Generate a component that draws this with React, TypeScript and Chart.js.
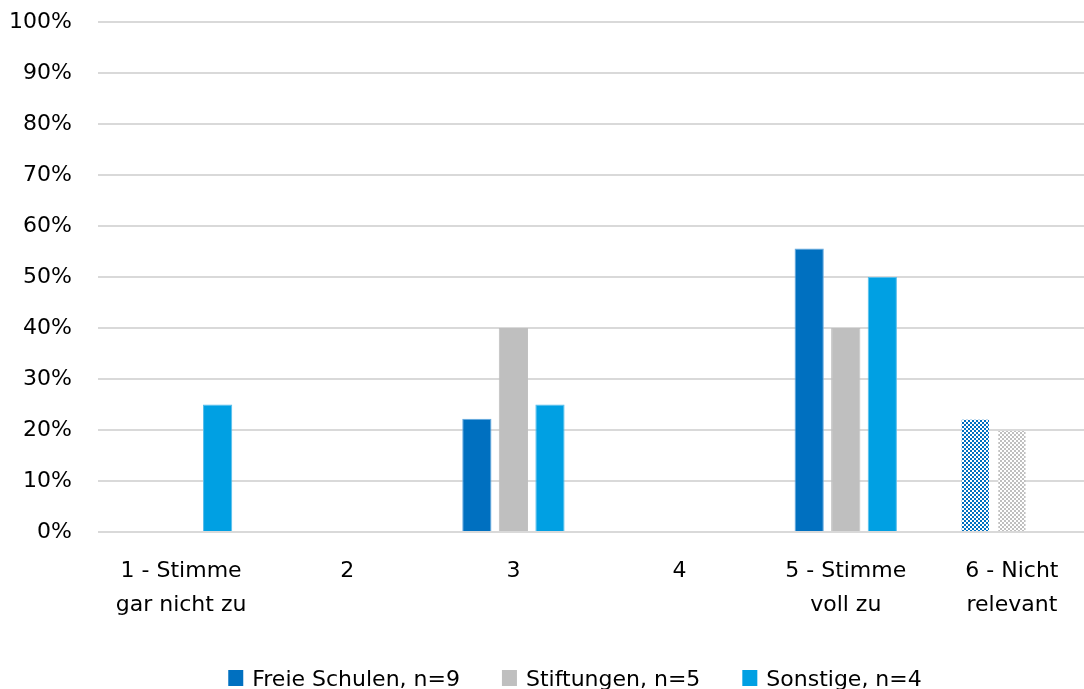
import React, { useEffect, useRef } from "react";
import { Chart, registerables } from "chart.js";

Chart.register(...registerables);

const categories: (string | string[])[] = [
  ["1 - Stimme", "gar nicht zu"],
  "2",
  "3",
  "4",
  ["5 - Stimme", "voll zu"],
  ["6 - Nicht", "relevant"],
];
const freieSchulen = [0, 0, 22.2, 0, 55.6, 22.2];
const stiftungen = [0, 0, 40, 0, 40, 20];
const sonstige = [25, 0, 25, 0, 50, 0];
const seriesNames = ["Freie Schulen, n=9", "Stiftungen, n=5", "Sonstige, n=4"];
const yTicks = [0, 10, 20, 30, 40, 50, 60, 70, 80, 90, 100];

const FONT = "'DejaVu Sans', sans-serif";
const COLORS = ["#0070C0", "#BFBFBF", "#00A0E3"];
const BORDERS = ["#63A9E0", "#BFBFBF", "#56BDEB"];

function checker(color: string): CanvasPattern | string {
  const c = document.createElement("canvas");
  c.width = 4;
  c.height = 4;
  const g = c.getContext("2d");
  if (!g) return color;
  g.fillStyle = "#ffffff";
  g.fillRect(0, 0, 4, 4);
  g.fillStyle = color;
  g.fillRect(0, 0, 2, 2);
  g.fillRect(2, 2, 2, 2);
  const p = g.createPattern(c, "repeat");
  return p || color;
}

const bottomLegend = {
  id: "bottomLegend",
  afterDraw(chart: any) {
    const ctx = chart.ctx as CanvasRenderingContext2D;
    ctx.save();
    ctx.font = `22px ${FONT}`;
    const boxW = 15;
    const boxH = 16;
    const gapBox = 9;
    const gapItem = 42;
    const widths = seriesNames.map((n) => ctx.measureText(n).width);
    const total =
      widths.reduce((a, b) => a + b, 0) +
      seriesNames.length * (boxW + gapBox) +
      (seriesNames.length - 1) * gapItem;
    let x = 575 - total / 2;
    const baseline = 686;
    seriesNames.forEach((n, i) => {
      ctx.fillStyle = COLORS[i];
      ctx.fillRect(x, baseline - boxH, boxW, boxH);
      x += boxW + gapBox;
      ctx.fillStyle = "#000";
      ctx.textAlign = "left";
      ctx.textBaseline = "alphabetic";
      ctx.fillText(n, x, baseline);
      x += widths[i] + gapItem;
    });
    ctx.restore();
  },
};

export default function App() {
  const ref = useRef<HTMLCanvasElement | null>(null);
  useEffect(() => {
    document.body.style.margin = "0";
    if (!ref.current) return;
    const patterns = COLORS.map((c) => checker(c));
    const datasets = [freieSchulen, stiftungen, sonstige].map((d, i) => ({
      label: seriesNames[i],
      data: d,
      backgroundColor: (ctx: any) =>
        ctx.type === "data" && ctx.dataIndex === 5 ? patterns[i] : COLORS[i],
      borderColor: (ctx: any) =>
        ctx.type === "data" && ctx.dataIndex === 5 ? "rgba(0,0,0,0)" : BORDERS[i],
      borderWidth: 1,
      categoryPercentage: 0.66,
      barPercentage: 0.8,
    }));
    const chart = new Chart(ref.current, {
      type: "bar",
      data: { labels: categories as any, datasets },
      plugins: [bottomLegend],
      options: {
        responsive: false,
        animation: false,
        layout: { padding: { top: 22, right: 5, left: 0, bottom: 0 } },
        plugins: {
          tooltip: { enabled: false },
          legend: { display: false },
        },
        scales: {
          x: {
            grid: { display: false, drawTicks: false },
            border: { display: false },
            afterFit: (axis: any) => {
              axis.height = 157;
            },
            ticks: {
              color: "#000",
              padding: 22,
              maxRotation: 0,
              autoSkip: false,
              font: { family: FONT, size: 22, lineHeight: 1.545 },
            },
          },
          y: {
            min: 0,
            max: 100,
            afterBuildTicks: (axis: any) => {
              axis.ticks = yTicks.map((v) => ({ value: v }));
            },
            afterFit: (axis: any) => {
              axis.width = 98;
              axis.paddingTop = 0;
              axis.paddingBottom = 0;
            },
            grid: { color: "#D9D9D9", lineWidth: 2, drawTicks: false },
            border: { display: false },
            ticks: {
              color: "#000",
              padding: 26,
              font: { family: FONT, size: 22 },
              callback: (v: any) => v + "%",
            },
          },
        },
      },
    });
    return () => chart.destroy();
  }, []);
  return (
    <div style={{ width: 1084, height: 689, overflow: "hidden" }}>
      <canvas ref={ref} width={1100} height={689} style={{ display: "block" }} />
    </div>
  );
}
